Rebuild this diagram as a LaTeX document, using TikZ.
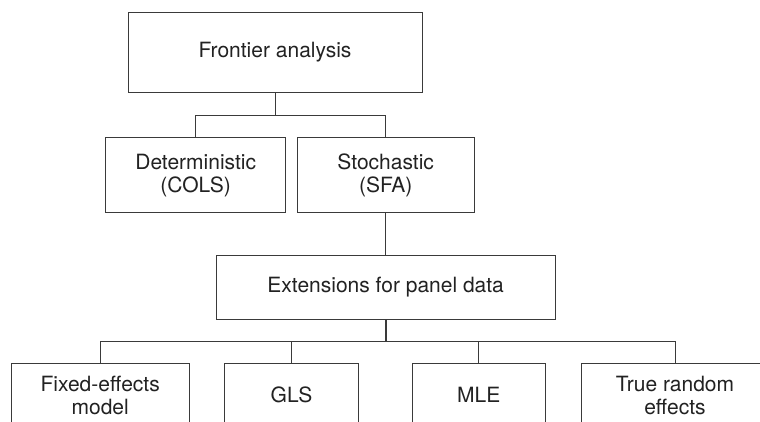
\documentclass[tikz,border=0pt]{standalone}
\usepackage{fontspec}
\setmainfont{TeX Gyre Heros}
\definecolor{linec}{HTML}{3A3A3A}
\definecolor{textc}{HTML}{222222}
\begin{document}
\begin{tikzpicture}[x=1pt,y=-1pt,
  box/.style={draw=linec,line width=0.9pt,rectangle,inner sep=0pt,align=center,
    text=textc,font=\fontsize{21}{23}\selectfont},
  conn/.style={draw=linec,line width=0.9pt},
  thickconn/.style={draw=linec,line width=1.6pt}]
\useasboundingbox (0,0) rectangle (760,422);
\clip (0,0) rectangle (760,422);
\fill[white] (0,0) rectangle (760,422);
\node[box,minimum width=294pt,minimum height=80pt] (top) at (275,52) {Frontier analysis};
\node[box,minimum width=180pt,minimum height=75pt] (det) at (195.7,175.2) {Deterministic\\(COLS)};
\node[box,minimum width=177pt,minimum height=75pt] (sto) at (385.7,175.2) {Stochastic\\(SFA)};
\node[box,minimum width=339pt,minimum height=64pt] (ext) at (385.7,287) {Extensions for panel data};
\node[box,minimum width=178pt,minimum height=64pt] (fe) at (100.2,395.3) {Fixed-effects\\model};
\node[box,minimum width=134.4pt,minimum height=64pt] (gls) at (291.5,395.3) {GLS};
\node[box,minimum width=133.7pt,minimum height=64pt] (mle) at (478.8,395.3) {MLE};
\node[box,minimum width=188pt,minimum height=64pt] (tre) at (675,395.3) {True random\\effects};
\draw[conn] (top.south) -- ++(0,23.3) coordinate (j1);
\draw[conn] (det.north) |- (j1) -| (sto.north);
\draw[conn] (sto.south) -- (ext.north);
\draw[thickconn] (ext.south) -- ++(0,22) coordinate (j2);
\draw[conn] (fe.north) |- (j2) -| (tre.north);
\draw[conn] (gls.north) -- (gls.north |- j2);
\draw[conn] (mle.north) -- (mle.north |- j2);
\end{tikzpicture}
\end{document}
